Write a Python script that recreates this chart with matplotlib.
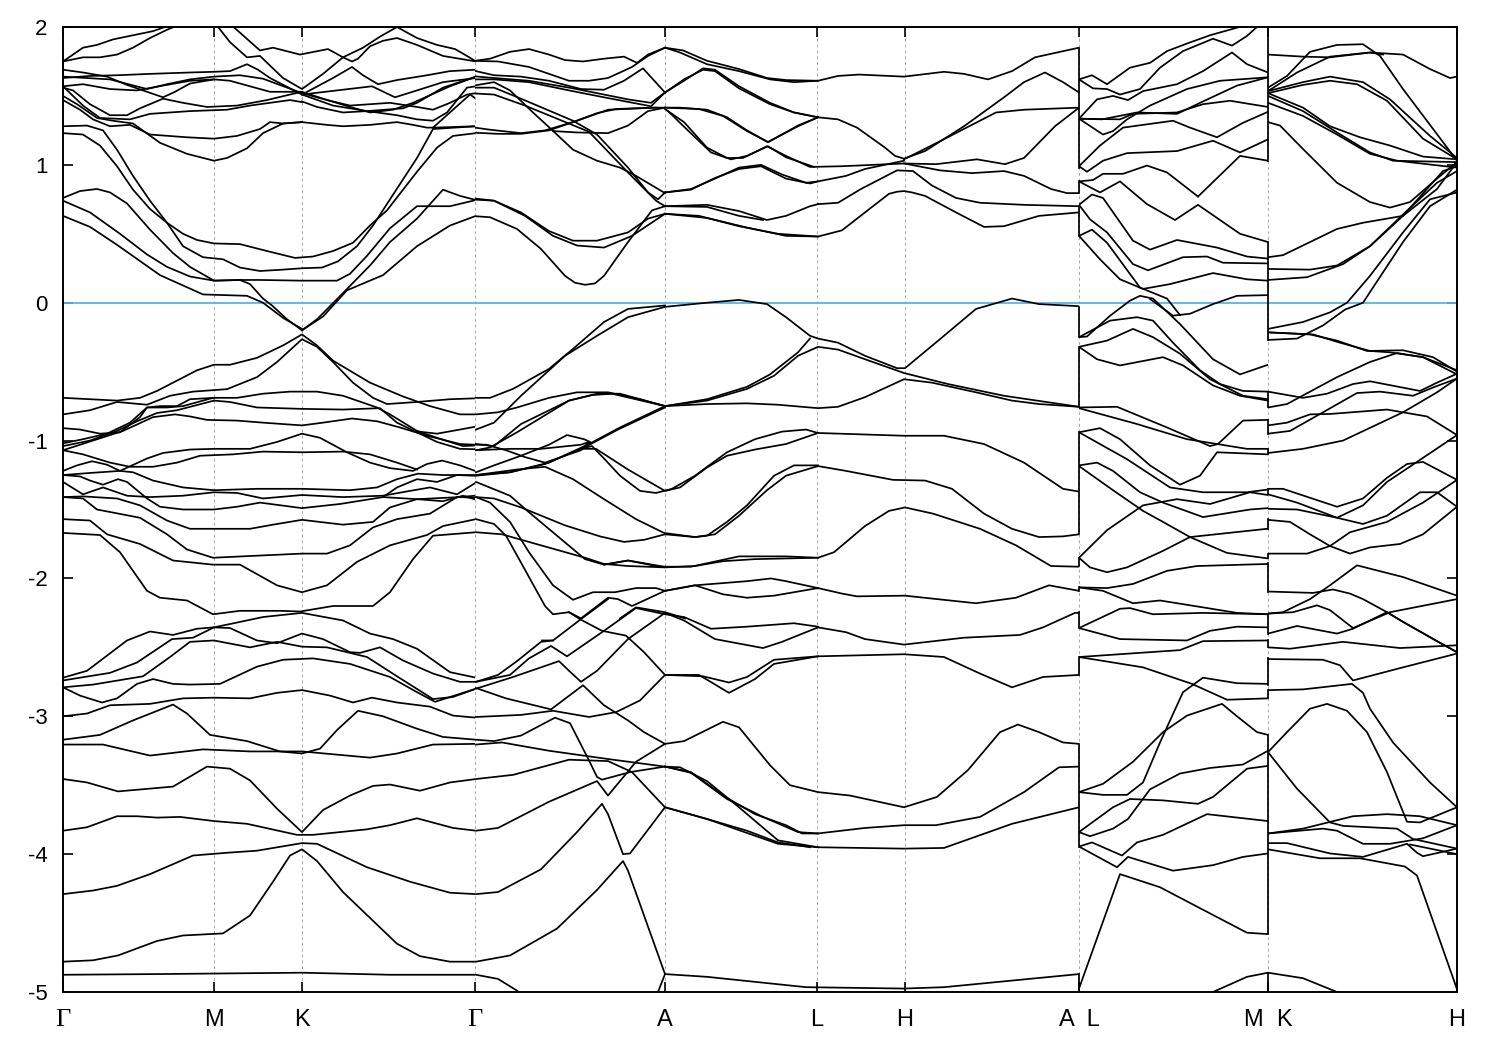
import matplotlib
matplotlib.use("Agg")
import matplotlib.pyplot as plt
from matplotlib.patches import Rectangle

# k-path positions of the high-symmetry points (path units)
k_ticks = [63, 214, 302, 475, 665, 817, 905, 1079, 1268, 1457]
k_labels = ["\u0393", "M", "K", "\u0393", "A", "L", "H", "A  L", "M  K", "H"]
e_ticks = [-5, -4, -3, -2, -1, 0, 1, 2]
fermi_level = 0.0

# Each band: list of (k, energy in eV) points
bands_G_M_K_G_upper = [
 [(63,1.75),(75,1.81),(83,1.85),(97,1.87),(113,1.91),(133,1.94),(153,1.97),(165,2.0),(177,2.02)],
 [(63,1.75),(83,1.78),(100,1.78),(117,1.80),(133,1.85),(150,1.92),(167,1.98),(177,2.01)],
 [(217,2.01),(230,1.89),(247,1.78),(260,1.79),(283,1.63),(302,1.55),(323,1.66),(343,1.78),(363,1.85),(380,1.93),(397,2.0),(417,1.92),(437,1.87),(455,1.84),(467,1.79),(476,1.75)],
 [(232,2.01),(260,1.83),(273,1.85),(300,1.80),(328,1.84),(343,1.78),(352,1.75),(358,1.77),(370,1.86),(383,1.90),(397,1.92),(417,1.87),(443,1.79),(476,1.75),(490,1.76)],
 [(63,1.69),(83,1.67),(107,1.64),(127,1.58),(143,1.54),(163,1.49),(175,1.53),(190,1.59),(214,1.62),(230,1.61),(250,1.57),(270,1.53),(302,1.53),(323,1.48),(350,1.42),(370,1.38),(393,1.40),(413,1.45),(450,1.57),(476,1.64),(490,1.63)],
 [(63,1.63),(90,1.645),(117,1.65),(150,1.66),(190,1.67),(214,1.675),(230,1.68),(247,1.73),(258,1.69),(270,1.63),(302,1.51),(333,1.43),(367,1.39),(403,1.41),(417,1.45),(443,1.56),(476,1.64),(490,1.63)],
 [(302,1.51),(333,1.63),(352,1.71),(363,1.65),(378,1.585),(397,1.615),(427,1.65),(450,1.68),(476,1.69),(490,1.67)],
 [(302,1.51),(337,1.54),(372,1.57),(395,1.49),(417,1.54),(443,1.60),(476,1.63),(490,1.63)],
 [(302,1.52),(327,1.47),(350,1.43),(390,1.45),(417,1.42),(433,1.40),(450,1.45),(467,1.51),(476,1.52),(490,1.51)],
 [(302,1.46),(317,1.42),(343,1.38),(367,1.39),(397,1.36),(417,1.33),(433,1.32),(447,1.38),(467,1.56),(476,1.57),(490,1.56)],
 [(302,1.31),(327,1.29),(343,1.28),(370,1.29),(397,1.31),(413,1.29),(427,1.27),(433,1.27),(453,1.40),(470,1.51),(476,1.48),(490,1.47)],
 [(433,1.27),(476,1.28),(490,1.27)],
 [(63,1.64),(110,1.62),(147,1.55),(167,1.585),(190,1.62),(214,1.64),(240,1.65),(263,1.625),(302,1.52)],
 [(63,1.57),(83,1.585),(110,1.55),(137,1.54),(163,1.575),(190,1.61),(214,1.62)],
 [(63,1.56),(73,1.54),(90,1.44),(110,1.36),(127,1.36),(140,1.41),(163,1.48),(183,1.45),(207,1.42),(237,1.43),(267,1.47),(290,1.51),(302,1.53)],
 [(63,1.57),(83,1.43),(100,1.34),(130,1.33),(150,1.37),(190,1.39),(227,1.40),(250,1.43),(290,1.47),(302,1.455)],
 [(63,1.50),(77,1.44),(97,1.34),(113,1.32),(133,1.30),(160,1.16),(187,1.08),(214,1.03),(227,1.05),(247,1.12),(263,1.23),(283,1.30),(302,1.31)],
 [(63,1.47),(80,1.40),(93,1.33),(110,1.28),(130,1.29),(150,1.22),(187,1.20),(214,1.19),(237,1.21),(260,1.26),(270,1.31),(283,1.30),(302,1.31)],
]
bands_G_M_K_G_gap = [
 [(63,1.28),(87,1.285),(103,1.25),(117,1.11),(133,.92),(150,.74),(167,.58),(183,.41),(203,.33),(223,.315),(240,.255),(260,.23),(283,.24),(302,.25),(322,.255),(338,.30),(357,.41),(373,.56),(390,.75),(417,1.05),(433,1.26),(476,1.28),(490,1.27)],
 [(63,1.23),(83,1.22),(100,1.14),(117,.99),(133,.82),(150,.68),(167,.58),(183,.50),(197,.455),(214,.43),(240,.425),(267,.375),(295,.325),(313,.335),(333,.375),(353,.435),(370,.56),(387,.67),(417,.95),(437,1.125),(453,1.21),(476,1.23),(490,1.23)],
 [(63,.76),(80,.81),(97,.825),(110,.80),(127,.72),(150,.53),(173,.36),(190,.26),(214,.16),(240,.165),(250,.135),(263,.03),(272,-.02),(287,-.12),(302,-.2)],
 [(63,.74),(90,.655),(120,.50),(147,.35),(167,.26),(190,.19),(214,.16),(240,.165),(260,.165),(302,.16),(337,.16),(350,.21),(367,.34),(390,.54),(417,.70),(450,.70),(476,.745)],
 [(302,-.2),(317,-.12),(343,.07),(370,.27),(390,.44),(417,.61),(443,.82),(460,.775),(476,.745),(490,.745)],
 [(302,-.2),(323,-.1),(347,.09),(383,.20),(417,.41),(450,.56),(476,.63),(490,.615)],
 [(63,.63),(90,.55),(117,.42),(160,.2),(203,.06),(247,.05),(263,.0),(283,-.11),(302,-.19)],
]
bands_G_M_K_G_middle = [
 [(63,-.69),(90,-.70),(117,-.71),(140,-.69),(157,-.64),(177,-.565),(197,-.49),(214,-.45),(230,-.45),(257,-.40),(283,-.31),(302,-.23),(317,-.31),(333,-.42),(370,-.58),(403,-.68),(430,-.75),(460,-.81),(490,-.81)],
 [(63,-.81),(90,-.78),(117,-.72),(147,-.74),(170,-.675),(193,-.645),(227,-.627),(257,-.54),(277,-.43),(302,-.265),(317,-.32),(333,-.43),(353,-.58),(373,-.69),(387,-.735),(417,-.72),(450,-.70),(490,-.69)],
 [(63,-1.02),(83,-.99),(107,-.95),(130,-.87),(147,-.76),(167,-.76),(183,-.75),(213,-.69),(237,-.69),(263,-.66),(290,-.645),(317,-.645),(343,-.675),(377,-.76),(390,-.81),(417,-.93),(437,-.98),(463,-1.04),(490,-1.03)],
 [(63,-.91),(80,-.92),(100,-.95),(120,-.94),(140,-.83),(147,-.76),(160,-.75),(177,-.75),(190,-.70),(214,-.69)],
 [(214,-.71),(230,-.72),(257,-.76),(302,-.77),(343,-.775),(380,-.765),(397,-.87),(417,-.94),(437,-1.01),(460,-1.06),(490,-1.065)],
 [(63,-1.04),(90,-1.0),(117,-.93),(137,-.86),(157,-.80),(177,-.78),(214,-.71)],
 [(63,-1.07),(93,-1.0),(123,-.93),(153,-.83),(175,-.81),(190,-.825),(207,-.85),(237,-.855),(263,-.87),(302,-.89),(323,-.87),(352,-.84),(377,-.86),(400,-.905),(427,-.965),(460,-1.025),(490,-1.035)],
 [(413,-.93),(437,-.95),(460,-.92),(490,-.88)],
 [(63,-1.07),(83,-1.10),(110,-1.16),(130,-1.19),(153,-1.19),(177,-1.16),(200,-1.11),(233,-1.10),(263,-1.08),(302,-1.085),(343,-1.08),(370,-1.10),(397,-1.16),(417,-1.21)],
 [(63,-1.22),(77,-1.18),(92,-1.15),(107,-1.175),(120,-1.22),(147,-1.13),(163,-1.09),(190,-1.065),(214,-1.06),(250,-1.06),(277,-1.01),(302,-.95),(320,-.98),(347,-1.085),(370,-1.16),(390,-1.20),(413,-1.22),(427,-1.17),(442,-1.145),(460,-1.18),(477,-1.225),(490,-1.21)],
 [(63,-1.25),(90,-1.235),(120,-1.22),(133,-1.23),(153,-1.29),(183,-1.34),(214,-1.36),(257,-1.35),(302,-1.35),(350,-1.36),(377,-1.34),(397,-1.28),(418,-1.24),(443,-1.25),(490,-1.25)],
 [(63,-1.25),(80,-1.26),(90,-1.29),(103,-1.32),(118,-1.28),(127,-1.30),(147,-1.42),(160,-1.48),(183,-1.50),(214,-1.50),(237,-1.48),(260,-1.45),(302,-1.49),(340,-1.46),(383,-1.41),(397,-1.34),(417,-1.28),(437,-1.30),(457,-1.25),(490,-1.26)],
 [(63,-1.30),(83,-1.39),(103,-1.34),(127,-1.40),(150,-1.41),(183,-1.40),(214,-1.375),(237,-1.38),(263,-1.42),(302,-1.395),(343,-1.41),(383,-1.40),(410,-1.365),(430,-1.34),(457,-1.39),(477,-1.30),(490,-1.32)],
 [(63,-1.41),(83,-1.405),(117,-1.42),(140,-1.47),(167,-1.58),(190,-1.64),(230,-1.64),(250,-1.64),(273,-1.61),(302,-1.575),(343,-1.61),(373,-1.59),(390,-1.485),(417,-1.425),(443,-1.44),(463,-1.40),(490,-1.46)],
 [(383,-1.41),(417,-1.425),(460,-1.41),(490,-1.42)],
 [(63,-1.57),(90,-1.58),(107,-1.68),(140,-1.75),(173,-1.87),(213,-1.90),(240,-1.90),(277,-2.05),(302,-2.10),(327,-2.05),(357,-1.88),(390,-1.76),(427,-1.685),(443,-1.62),(476,-1.57),(490,-1.59)],
 [(63,-1.67),(100,-1.685),(120,-1.81),(147,-2.09),(160,-2.14),(187,-2.16),(213,-2.26),(240,-2.235),(280,-2.235),(300,-2.24),(333,-2.2),(373,-2.2),(390,-2.10),(413,-1.86),(433,-1.69),(476,-1.665),(490,-1.665)],
 [(63,-1.41),(83,-1.42),(97,-1.50),(140,-1.56),(167,-1.68),(187,-1.79),(213,-1.85),(257,-1.835),(302,-1.82),(327,-1.82),(350,-1.76),(373,-1.63),(397,-1.57),(430,-1.53),(457,-1.41),(476,-1.40)],
]
bands_G_M_K_G_lower = [
 [(63,-2.72),(87,-2.67),(107,-2.56),(127,-2.45),(150,-2.385),(173,-2.41),(197,-2.365),(214,-2.355),(237,-2.32),(263,-2.28),(302,-2.25),(343,-2.305),(370,-2.40),(393,-2.44),(417,-2.51),(450,-2.68),(476,-2.72),(490,-2.715)],
 [(63,-2.74),(110,-2.685),(137,-2.61),(172,-2.44),(193,-2.43),(214,-2.355),(230,-2.36),(257,-2.45),(277,-2.47),(302,-2.40),(323,-2.44),(350,-2.535),(360,-2.54),(380,-2.50),(403,-2.595),(433,-2.69),(460,-2.75),(476,-2.75),(490,-2.71)],
 [(63,-2.79),(93,-2.77),(143,-2.71),(170,-2.57),(190,-2.46),(214,-2.45),(250,-2.50),(277,-2.46),(302,-2.495),(327,-2.50),(367,-2.57),(397,-2.71),(433,-2.875),(453,-2.86),(476,-2.80),(490,-2.79)],
 [(63,-2.79),(80,-2.85),(102,-2.90),(117,-2.87),(137,-2.765),(153,-2.73),(173,-2.765),(190,-2.77),(220,-2.765),(257,-2.64),(283,-2.59),(313,-2.58),(350,-2.62),(390,-2.715),(417,-2.825),(435,-2.895),(476,-2.80)],
 [(63,-3.0),(87,-2.98),(110,-2.92),(150,-2.91),(183,-2.87),(214,-2.865),(250,-2.87),(277,-2.83),(302,-2.81),(330,-2.85),(353,-2.90),(372,-2.865),(397,-2.90),(430,-2.93),(453,-2.995),(476,-3.01),(490,-3.01)],
 [(63,-3.17),(100,-3.135),(133,-3.03),(173,-2.915),(187,-2.98),(210,-3.135),(247,-3.18),(280,-3.255),(302,-3.27),(320,-3.235),(337,-3.10),(358,-2.96),(383,-3.0),(417,-3.09),(443,-3.15),(476,-3.17),(490,-3.18)],
 [(63,-3.205),(103,-3.205),(150,-3.285),(203,-3.24),(250,-3.255),(302,-3.255),(370,-3.30),(397,-3.27),(433,-3.205),(476,-3.20),(490,-3.195)],
 [(63,-3.455),(87,-3.48),(118,-3.545),(173,-3.51),(207,-3.365),(230,-3.38),(250,-3.465),(277,-3.67),(302,-3.84),(323,-3.68),(350,-3.575),(373,-3.505),(390,-3.495),(420,-3.54),(450,-3.48),(476,-3.455),(490,-3.45)],
 [(63,-3.83),(87,-3.805),(117,-3.725),(137,-3.725),(157,-3.735),(180,-3.73),(214,-3.76),(247,-3.78),(297,-3.86),(313,-3.86),(367,-3.82),(390,-3.79),(417,-3.74),(453,-3.81),(476,-3.83),(490,-3.815)],
 [(63,-4.29),(93,-4.264),(117,-4.23),(150,-4.145),(193,-4.01),(227,-3.99),(257,-3.975),(302,-3.92),(317,-3.925),(367,-4.095),(410,-4.20),(450,-4.28),(476,-4.29),(490,-4.285)],
 [(63,-4.78),(93,-4.77),(118,-4.735),(157,-4.63),(183,-4.59),(223,-4.575),(250,-4.445),(273,-4.2),(290,-4.01),(302,-3.965),(317,-4.05),(343,-4.275),(397,-4.65),(420,-4.74),(450,-4.78),(490,-4.78)],
 [(63,-4.875),(157,-4.87),(302,-4.86),(390,-4.875),(476,-4.875),(490,-4.89)],
]
bands_G_A_L_H_A_upper = [
 [(470,1.75),(490,1.77),(510,1.82),(529,1.84),(549,1.80),(565,1.76),(583,1.75),(604,1.77),(624,1.785),(637,1.74),(648,1.80),(665,1.85),(680,1.815),(707,1.73),(739,1.68),(770,1.62),(794,1.60),(818,1.61),(838,1.645),(859,1.655),(904,1.64),(944,1.675),(964,1.66),(988,1.62),(1012,1.68),(1035,1.78),(1079,1.85)],
 [(665,1.85),(683,1.83),(707,1.755),(739,1.695),(767,1.63),(786,1.615),(818,1.61)],
 [(470,1.755),(498,1.75),(529,1.71),(569,1.61),(589,1.61),(608,1.63),(632,1.71),(648,1.79),(665,1.85)],
 [(470,1.69),(494,1.65),(521,1.64),(549,1.61),(581,1.55),(604,1.545),(624,1.61),(643,1.70),(665,1.525)],
 [(470,1.645),(494,1.63),(529,1.61),(573,1.555),(604,1.51),(628,1.475),(651,1.45),(665,1.525),(684,1.61),(703,1.70),(715,1.69),(739,1.57),(770,1.45),(794,1.38),(818,1.345),(838,1.33),(857,1.27),(885,1.125),(895,1.065),(904,1.045),(925,1.10),(964,1.28),(1004,1.49),(1024,1.60),(1045,1.67),(1063,1.60),(1079,1.525)],
 [(470,1.62),(494,1.62),(529,1.60),(569,1.54),(604,1.49),(651,1.425),(665,1.525)],
 [(665,1.525),(684,1.62),(703,1.69),(715,1.68),(739,1.555),(770,1.44),(794,1.38),(818,1.345)],
 [(470,1.56),(494,1.56),(521,1.48),(573,1.32),(597,1.22),(628,.98),(648,.80),(658,.75),(665,.80)],
 [(470,1.52),(494,1.51),(525,1.43),(589,1.24),(628,.945),(656,.74),(665,.70)],
 [(470,1.57),(494,1.60),(510,1.54),(533,1.38),(551,1.26),(573,1.11),(597,1.03),(620,.98),(636,.92),(665,.795)],
 [(470,1.275),(490,1.255),(521,1.23),(545,1.25),(573,1.31),(597,1.375),(616,1.405),(652,1.415),(665,1.415)],
 [(470,1.235),(498,1.225),(521,1.225),(549,1.25),(577,1.32),(608,1.40),(656,1.415)],
 [(553,1.245),(577,1.235),(608,1.23),(628,1.285),(648,1.39),(665,1.415)],
 [(665,1.415),(680,1.415),(707,1.40),(727,1.345),(747,1.25),(768,1.165),(798,1.28),(818,1.345)],
 [(665,1.415),(699,1.405),(723,1.355),(747,1.245),(768,1.165),(798,1.285),(818,1.345)],
 [(665,1.405),(684,1.31),(707,1.125),(727,1.05),(743,1.05),(767,1.135),(786,1.065),(810,.985),(842,.99),(904,1.01),(936,1.005),(977,1.04),(1005,1.005),(1024,1.05),(1055,1.28),(1079,1.415)],
 [(668,1.39),(685,1.27),(711,1.09),(731,1.04),(747,1.065),(768,1.135),(786,1.055),(814,.985)],
 [(904,1.04),(941,1.175),(996,1.38),(1024,1.40),(1079,1.415)],
 [(665,.80),(691,.825),(715,.90),(739,.98),(761,1.0),(782,.93),(806,.87),(818,.88),(846,.92),(865,.97),(904,1.03)],
 [(665,.80),(691,.82),(715,.905),(739,.97),(761,.99),(786,.90),(810,.865),(818,.88)],
 [(904,1.01),(940,.96),(972,.94),(1004,.955),(1024,.92),(1051,.825),(1067,.795),(1079,.795)],
 [(818,.715),(838,.725),(861,.825),(897,.96),(913,.955),(932,.85),(956,.76),(980,.725),(1024,.71),(1079,.70)],
 [(665,.70),(707,.71),(739,.665),(767,.60),(786,.63),(810,.70),(818,.715)],
 [(665,.70),(707,.695),(739,.63),(763,.60)],
 [(665,.645),(707,.615),(747,.545),(786,.485),(818,.48),(842,.525),(865,.655),(889,.79),(897,.805),(904,.81),(912,.80),(925,.775),(956,.655),(984,.55),(1004,.555),(1039,.63),(1079,.655)],
 [(665,.645),(699,.63),(739,.555),(778,.50),(818,.48)],
 [(470,.63),(490,.62),(517,.535),(541,.39),(565,.195),(575,.145),(585,.13),(595,.14),(604,.195),(628,.44),(652,.67),(665,.70)],
 [(470,.75),(494,.74),(521,.655),(549,.52),(573,.45),(597,.45),(628,.51),(648,.61),(665,.645)],
 [(470,.76),(494,.74),(525,.63),(553,.485),(577,.415),(604,.40),(632,.485),(665,.645)],
]
bands_G_A_L_H_A_middle = [
 [(476,-.69),(490,-.69),(513,-.625),(549,-.48),(573,-.335),(604,-.14),(628,-.045),(665,-.02)],
 [(476,-.92),(494,-.87),(521,-.675),(565,-.385),(597,-.24),(628,-.105),(665,-.03),(707,0.0),(739,.02),(767,-.01),(786,-.105),(810,-.24),(818,-.26),(838,-.29),(865,-.385),(897,-.475),(905,-.475),(944,-.24),(976,-.045),(1012,.03),(1039,-.01),(1079,-.025)],
 [(476,-.81),(498,-.795),(517,-.76),(549,-.69),(577,-.65),(608,-.65),(640,-.70),(665,-.75)],
 [(476,-1.025),(494,-1.04),(521,-.88),(569,-.71),(597,-.66),(620,-.66),(665,-.75)],
 [(476,-1.07),(490,-1.05),(517,-.94),(569,-.71),(592,-.67),(612,-.66),(665,-.75)],
 [(476,-1.23),(494,-1.18),(521,-1.11),(549,-1.03),(567,-.96),(584,-.99),(590,-1.01)],
 [(476,-1.25),(510,-1.23),(549,-1.16),(589,-1.025),(620,-.905),(665,-.75)],
 [(476,-1.255),(510,-1.23),(545,-1.17),(587,-1.04),(618,-.92),(665,-.76)],
 [(476,-1.03),(486,-1.03),(506,-1.07),(525,-1.12),(545,-1.16),(581,-1.07),(589,-1.01)],
 [(476,-1.07),(510,-1.06),(541,-1.06),(581,-1.03),(589,-1.01)],
 [(665,-.75),(707,-.735),(747,-.73),(778,-.74),(818,-.765),(838,-.755),(865,-.685),(904,-.555),(932,-.58),(976,-.65),(1012,-.71),(1039,-.735),(1079,-.755)],
 [(665,-.75),(707,-.71),(747,-.625),(774,-.53),(798,-.385),(818,-.32),(838,-.34),(865,-.41),(904,-.51),(948,-.59),(1004,-.675),(1079,-.755)],
 [(665,-.75),(707,-.70),(747,-.61),(770,-.52),(798,-.36),(810,-.26)],
 [(581,-1.06),(592,-1.04),(604,-1.13),(620,-1.255),(640,-1.365),(656,-1.38),(672,-1.35),(695,-1.255),(727,-1.085),(755,-.99),(782,-.935),(806,-.92),(818,-.945)],
 [(581,-1.06),(596,-1.06),(628,-1.21),(665,-1.365),(680,-1.34),(707,-1.195),(727,-1.11),(755,-1.065),(786,-1.025),(818,-.945),(904,-.965),(944,-.965),(984,-1.025),(1024,-1.16),(1063,-1.35),(1079,-1.37)],
 [(476,-1.25),(517,-1.21),(545,-1.19),(573,-1.28),(604,-1.425),(636,-1.57),(664,-1.67),(695,-1.70),(707,-1.69),(727,-1.59),(747,-1.47),(774,-1.255),(794,-1.18),(818,-1.18)],
 [(476,-1.41),(494,-1.42),(521,-1.485),(565,-1.615),(600,-1.695),(624,-1.735),(644,-1.72),(665,-1.68),(695,-1.70),(715,-1.68),(739,-1.545),(767,-1.36),(786,-1.255),(818,-1.185),(846,-1.22),(893,-1.285),(925,-1.29),(952,-1.35),(984,-1.53),(1012,-1.64),(1039,-1.70),(1063,-1.695),(1079,-1.68)],
 [(476,-1.30),(510,-1.40),(529,-1.52),(557,-1.69),(585,-1.86),(604,-1.90),(628,-1.87),(664,-1.915)],
 [(476,-1.41),(490,-1.45),(510,-1.59),(529,-1.81),(553,-2.05),(573,-2.155),(593,-2.10),(615,-2.10),(636,-2.07),(656,-2.07),(665,-2.09),(695,-2.05),(747,-2.02),(771,-2.0),(786,-2.02),(818,-2.07),(842,-2.11),(857,-2.13),(905,-2.125),(937,-2.15),(976,-2.18),(1016,-2.14),(1049,-2.05),(1079,-2.09)],
 [(476,-1.57),(494,-1.605),(506,-1.69),(521,-1.885),(545,-2.20),(553,-2.26),(569,-2.245),(581,-2.29)],
 [(476,-1.665),(502,-1.68),(541,-1.76),(585,-1.85),(604,-1.895),(628,-1.91),(665,-1.92),(695,-1.91),(723,-1.875),(755,-1.86),(818,-1.85),(834,-1.81),(865,-1.62),(889,-1.51),(905,-1.485),(933,-1.53),(980,-1.64),(1016,-1.76),(1051,-1.91),(1079,-1.915)],
 [(604,-1.90),(628,-1.87),(660,-1.915),(691,-1.915),(739,-1.84),(786,-1.84),(818,-1.85)],
 [(665,-2.09),(695,-2.05),(723,-2.115),(747,-2.14),(774,-2.125),(818,-2.07)],
 [(581,-2.29),(608,-2.14),(618,-2.15),(632,-2.20),(644,-2.16),(665,-2.09)],
 [(620,-2.29),(636,-2.21),(665,-2.245),(685,-2.29)],
]
bands_G_A_L_H_A_lower = [
 [(569,-2.245),(581,-2.30),(602,-2.38),(626,-2.415),(644,-2.535),(665,-2.70)],
 [(542,-2.45),(553,-2.45),(581,-2.295),(608,-2.15)],
 [(476,-2.75),(498,-2.70),(517,-2.60),(541,-2.46),(553,-2.45)],
 [(476,-2.75),(510,-2.70),(529,-2.58),(551,-2.49),(567,-2.565),(604,-2.38),(636,-2.215),(665,-2.26),(684,-2.28),(711,-2.365),(747,-2.35),(794,-2.325),(818,-2.35)],
 [(476,-2.80),(513,-2.715),(559,-2.60),(569,-2.67),(581,-2.75),(597,-2.67),(628,-2.44),(665,-2.25),(684,-2.305),(715,-2.44),(763,-2.505),(782,-2.46),(818,-2.355),(846,-2.39),(865,-2.44),(904,-2.48),(964,-2.43),(1020,-2.41),(1043,-2.355),(1075,-2.25),(1079,-2.25)],
 [(476,-2.795),(506,-2.87),(551,-2.95),(583,-2.775),(604,-2.92),(628,-3.03),(644,-3.115),(665,-3.20),(684,-3.18),(723,-3.04),(739,-3.08),(770,-3.355),(790,-3.50),(818,-3.55),(850,-3.575),(904,-3.66),(937,-3.585),(968,-3.39),(1000,-3.115),(1018,-3.06),(1039,-3.115),(1063,-3.19),(1079,-3.2)],
 [(476,-3.005),(521,-2.99),(553,-2.96),(589,-3.005),(616,-2.97),(640,-2.885),(665,-2.70),(699,-2.70),(729,-2.83),(755,-2.73),(774,-2.62),(818,-2.565),(904,-2.55),(944,-2.57),(980,-2.69),(1012,-2.79),(1043,-2.715),(1079,-2.70)],
 [(665,-2.70),(703,-2.71),(729,-2.755),(747,-2.715),(774,-2.59),(818,-2.565)],
 [(476,-3.17),(494,-3.18),(521,-3.14),(555,-3.01),(570,-3.05),(589,-3.32),(597,-3.44),(602,-3.46),(630,-3.405),(665,-3.365),(680,-3.37),(707,-3.47),(739,-3.66),(778,-3.90),(818,-3.95)],
 [(476,-3.205),(502,-3.19),(549,-3.25),(608,-3.31),(665,-3.365)],
 [(476,-3.455),(513,-3.425),(569,-3.315),(608,-3.325),(632,-3.405),(665,-3.66),(707,-3.745),(778,-3.925),(818,-3.95),(904,-3.96),(944,-3.955),(1012,-3.78),(1079,-3.66)],
 [(476,-3.83),(498,-3.81),(549,-3.62),(597,-3.47),(608,-3.575),(636,-3.33),(665,-3.2)],
 [(476,-4.29),(498,-4.275),(541,-4.11),(577,-3.84),(602,-3.635),(608,-3.71),(623,-4.0),(630,-3.995),(665,-3.66)],
 [(476,-4.78),(510,-4.735),(557,-4.54),(597,-4.26),(623,-4.05),(628,-4.12),(665,-4.87),(707,-4.89),(806,-4.965),(904,-4.975),(944,-4.965),(1079,-4.87)],
 [(658,-5.0),(665,-4.87)],
 [(476,-4.875),(498,-4.905),(517,-4.99),(520,-5.01)],
 [(665,-3.365),(691,-3.405),(723,-3.575),(755,-3.71),(786,-3.79),(802,-3.85),(818,-3.85),(865,-3.81),(904,-3.79),(936,-3.79),(980,-3.73),(1024,-3.55),(1059,-3.37),(1079,-3.365)],
 [(665,-3.365),(691,-3.41),(727,-3.60),(763,-3.73),(798,-3.84),(818,-3.85)],
 [(665,-3.66),(707,-3.745),(747,-3.83),(778,-3.915),(810,-3.95)],
]
bands_L_M = [
 [(1079,1.62),(1092,1.65),(1107,1.585),(1130,1.705),(1150,1.74),(1167,1.825),(1187,1.88),(1210,1.94),(1237,1.995),(1250,2.02)],
 [(1079,1.62),(1093,1.555),(1107,1.55),(1120,1.51),(1140,1.55),(1160,1.705),(1183,1.825),(1213,1.915),(1232,1.865),(1247,1.935),(1260,2.02)],
 [(1079,1.335),(1097,1.475),(1113,1.50),(1128,1.47),(1143,1.535),(1177,1.585),(1203,1.68),(1232,1.815),(1247,1.73),(1268,1.67)],
 [(1079,1.335),(1102,1.33),(1137,1.38),(1177,1.37),(1203,1.46),(1237,1.575),(1268,1.635)],
 [(1079,1.335),(1103,1.22),(1113,1.245),(1127,1.33),(1150,1.43),(1187,1.55),(1220,1.61),(1268,1.635)],
 [(1079,1.335),(1120,1.33),(1133,1.37),(1177,1.38),(1203,1.44),(1230,1.465),(1268,1.42)],
 [(1079,.99),(1100,1.14),(1123,1.27),(1173,1.32),(1190,1.27),(1217,1.2),(1243,1.305),(1268,1.385)],
 [(1079,.99),(1087,.95),(1103,1.03),(1127,1.085),(1177,1.10),(1213,1.175),(1240,1.09),(1268,1.185)],
 [(1198,.77),(1240,1.065),(1268,1.03)],
 [(1079,.88),(1093,.89),(1103,.935),(1123,.935),(1147,.995),(1167,.945),(1198,.77)],
 [(1079,.88),(1100,.80),(1120,.88),(1147,.715),(1175,.60),(1198,.71),(1213,.635),(1240,.50),(1268,.44)],
 [(1079,.71),(1092,.785),(1103,.76),(1133,.45),(1150,.385),(1177,.455),(1217,.40),(1247,.335),(1268,.32)],
 [(1079,.71),(1090,.605),(1107,.51),(1133,.28),(1148,.235),(1183,.33),(1207,.335),(1223,.29),(1268,.285)],
 [(1079,.485),(1092,.53),(1107,.435),(1140,.11),(1167,.03),(1180,-.09)],
 [(1079,.485),(1100,.315),(1120,.17),(1143,.10),(1170,.135),(1213,.215),(1247,.17),(1268,.16)],
 [(1079,-.25),(1087,-.245),(1110,-.095),(1130,.015),(1140,.05),(1153,.03),(1180,-.155),(1213,-.41),(1240,-.52),(1268,-.45)],
 [(1150,.027),(1173,-.094),(1190,-.08),(1213,-.01),(1237,.05),(1268,.055)],
 [(1079,-.25),(1110,-.13),(1137,-.105),(1153,-.13),(1173,-.29),(1200,-.49),(1220,-.59),(1243,-.64),(1268,-.645)],
 [(1079,-.32),(1107,-.275),(1133,-.19),(1153,-.25),(1180,-.37),(1210,-.555),(1243,-.675),(1268,-.70)],
 [(1079,-.32),(1097,-.41),(1120,-.455),(1163,-.395),(1183,-.455),(1213,-.60),(1240,-.675),(1268,-.71)],
 [(1079,-.76),(1117,-.755),(1167,-.905),(1210,-1.04),(1218,-1.025),(1243,-.855),(1268,-.85)],
 [(1079,-.765),(1137,-.88),(1187,-.99),(1247,-1.06),(1268,-1.06)],
 [(1079,-.94),(1100,-.91),(1120,-.99),(1150,-1.18),(1180,-1.32),(1200,-1.255),(1217,-1.085),(1268,-1.10)],
 [(1079,-.94),(1127,-1.135),(1170,-1.34),(1203,-1.375),(1247,-1.375),(1268,-1.355)],
 [(1079,-1.18),(1097,-1.16),(1113,-1.22),(1140,-1.375),(1163,-1.45),(1203,-1.555),(1250,-1.50),(1268,-1.49)],
 [(1079,-1.185),(1113,-1.36),(1143,-1.51),(1163,-1.59),(1190,-1.70),(1227,-1.815),(1268,-1.855)],
 [(1079,-1.85),(1107,-1.65),(1143,-1.47),(1177,-1.425),(1210,-1.46),(1250,-1.375),(1268,-1.395)],
 [(1079,-1.85),(1090,-1.92),(1107,-1.955),(1127,-1.92),(1163,-1.80),(1190,-1.70),(1267,-1.64)],
 [(1079,-2.065),(1107,-2.07),(1133,-2.04),(1167,-1.945),(1197,-1.91),(1268,-1.895)],
 [(1079,-2.065),(1103,-2.09),(1133,-2.18),(1160,-2.16),(1203,-2.21),(1237,-2.25),(1268,-2.26)],
 [(1079,-2.36),(1120,-2.22),(1130,-2.215),(1153,-2.26),(1203,-2.25),(1268,-2.26)],
 [(1079,-2.36),(1120,-2.44),(1187,-2.45),(1210,-2.38),(1237,-2.35),(1268,-2.355)],
 [(1079,-2.57),(1180,-2.52),(1203,-2.455),(1268,-2.45)],
 [(1079,-2.57),(1143,-2.645),(1192,-2.765),(1227,-2.88),(1268,-2.87)],
 [(1079,-3.55),(1103,-3.49),(1133,-3.33),(1163,-3.115),(1187,-2.995),(1222,-2.91),(1237,-3.0),(1257,-3.115),(1268,-3.135)],
 [(1079,-3.55),(1103,-3.57),(1127,-3.57),(1143,-3.48),(1160,-3.19),(1183,-2.825),(1203,-2.72),(1237,-2.76),(1268,-2.765)],
 [(1079,-3.84),(1113,-3.66),(1130,-3.6),(1163,-3.61),(1198,-3.635),(1213,-3.585),(1247,-3.38),(1268,-3.36)],
 [(1079,-3.84),(1090,-3.87),(1113,-3.815),(1128,-3.745),(1150,-3.53),(1180,-3.415),(1210,-3.375),(1243,-3.35),(1268,-3.25)],
 [(1079,-3.945),(1092,-3.915),(1122,-4.01),(1137,-3.915),(1163,-3.86),(1207,-3.71),(1268,-3.76)],
 [(1079,-3.945),(1117,-4.095),(1128,-4.02),(1173,-4.12),(1213,-4.08),(1243,-4.02),(1268,-3.995)],
 [(1079,-4.975),(1120,-4.145),(1160,-4.24),(1210,-4.43),(1247,-4.57),(1268,-4.58)],
 [(1213,-5.0),(1247,-4.89),(1268,-4.86)],
]
bands_K_H = [
 [(1268,-4.86),(1303,-4.90),(1337,-5.0)],
 [(1268,1.80),(1303,1.785),(1330,1.78),(1370,1.815),(1403,1.80),(1430,1.695),(1450,1.63),(1457,1.64)],
 [(1268,1.56),(1287,1.645),(1310,1.82),(1337,1.87),(1363,1.875),(1380,1.79),(1403,1.55),(1457,1.03)],
 [(1268,1.535),(1297,1.67),(1330,1.785),(1370,1.815),(1383,1.80)],
 [(1268,1.535),(1303,1.60),(1330,1.64),(1363,1.60),(1390,1.475),(1430,1.21),(1457,1.05)],
 [(1268,1.52),(1303,1.58),(1330,1.61),(1357,1.585),(1387,1.465),(1423,1.19),(1457,1.04)],
 [(1268,1.52),(1303,1.415),(1330,1.28),(1360,1.20),(1390,1.14),(1423,1.06),(1457,1.04)],
 [(1268,1.50),(1303,1.39),(1337,1.235),(1370,1.09),(1393,1.03),(1457,1.02)],
 [(1268,1.45),(1303,1.355),(1337,1.22),(1370,1.08),(1397,1.03),(1457,.98)],
 [(1268,1.31),(1280,1.285),(1303,1.115),(1337,.87),(1370,.73),(1390,.69),(1410,.73),(1437,.90),(1457,1.02)],
 [(1268,.33),(1283,.345),(1337,.535),(1363,.58),(1403,.63),(1437,.825),(1457,1.02)],
 [(1268,.245),(1310,.24),(1337,.27),(1370,.41),(1403,.63),(1430,.85),(1443,.955),(1457,.99)],
 [(1268,.165),(1307,.185),(1343,.28),(1370,.41),(1403,.64),(1437,.87),(1457,.955)],
 [(1268,-.19),(1303,-.14),(1330,-.07),(1347,.0),(1370,.195),(1403,.51),(1430,.75),(1457,.80)],
 [(1268,-.27),(1297,-.26),(1323,-.165),(1345,-.05),(1363,.0),(1403,.44),(1430,.70),(1457,.82)],
 [(1268,-.215),(1310,-.23),(1337,-.275),(1367,-.35),(1403,-.345),(1433,-.395),(1457,-.50)],
 [(1268,-.215),(1313,-.23),(1340,-.29),(1370,-.35),(1390,-.36),(1423,-.395),(1457,-.52)],
 [(1268,-.645),(1303,-.69),(1327,-.66),(1353,-.59),(1370,-.57),(1420,-.64),(1437,-.58),(1457,-.515)],
 [(1268,-.76),(1287,-.735),(1337,-.54),(1370,-.43),(1397,-.365),(1423,-.395),(1457,-.49)],
 [(1268,-.95),(1290,-.93),(1323,-.795),(1357,-.655),(1380,-.645),(1413,-.675),(1433,-.615),(1457,-.55)],
 [(1268,-.89),(1287,-.87),(1310,-.81),(1330,-.807),(1387,-.775),(1427,-.825),(1457,-.96)],
 [(1268,-1.09),(1303,-1.06),(1343,-1.0),(1403,-.795),(1437,-.65),(1457,-.55)],
 [(1268,-1.35),(1283,-1.35),(1337,-1.48),(1363,-1.42),(1387,-1.27),(1407,-1.17),(1423,-1.155),(1457,-1.285)],
 [(1268,-1.39),(1297,-1.45),(1337,-1.56),(1363,-1.47),(1387,-1.30),(1420,-1.14),(1457,-.96)],
 [(1268,-1.495),(1297,-1.50),(1337,-1.56),(1363,-1.605),(1387,-1.545),(1420,-1.375),(1437,-1.375),(1457,-1.48)],
 [(1268,-1.575),(1290,-1.59),(1310,-1.68),(1330,-1.765),(1350,-1.82),(1370,-1.775),(1400,-1.75),(1423,-1.68),(1457,-1.48)],
 [(1268,-1.82),(1307,-1.82),(1330,-1.765),(1350,-1.665),(1387,-1.59),(1423,-1.45),(1457,-1.285)],
 [(1268,-2.095),(1313,-2.105),(1333,-2.08),(1350,-2.11),(1363,-2.15),(1387,-2.245),(1403,-2.315),(1437,-2.455),(1457,-2.535)],
 [(1268,-2.255),(1283,-2.245),(1310,-2.15),(1330,-2.05),(1357,-1.905),(1403,-1.99),(1457,-2.125)],
 [(1268,-2.255),(1293,-2.245),(1317,-2.195),(1330,-2.23),(1353,-2.36),(1390,-2.245),(1457,-2.15)],
 [(1268,-2.40),(1297,-2.345),(1337,-2.40),(1353,-2.365),(1387,-2.245),(1403,-2.315),(1437,-2.455),(1457,-2.535)],
 [(1268,-2.50),(1290,-2.51),(1343,-2.46),(1400,-2.505),(1457,-2.485)],
 [(1268,-2.585),(1323,-2.59),(1340,-2.63),(1353,-2.74),(1403,-2.645),(1457,-2.545)],
 [(1268,-2.81),(1303,-2.805),(1352,-2.765),(1363,-2.83),(1370,-2.945),(1393,-3.19),(1430,-3.48),(1457,-3.66)],
 [(1268,-3.26),(1287,-3.115),(1310,-2.945),(1327,-2.91),(1347,-2.96),(1367,-3.115),(1387,-3.405),(1407,-3.765),(1420,-3.77),(1457,-3.66)],
 [(1268,-3.26),(1297,-3.525),(1330,-3.77),(1343,-3.795),(1397,-3.815),(1413,-3.89),(1457,-3.96)],
 [(1268,-3.85),(1303,-3.815),(1353,-3.725),(1387,-3.71),(1420,-3.725),(1457,-3.79)],
 [(1268,-3.85),(1323,-3.815),(1337,-3.83),(1363,-3.925),(1390,-3.925),(1423,-3.885),(1457,-3.79)],
 [(1268,-3.92),(1287,-3.92),(1330,-3.995),(1363,-4.02),(1407,-3.925),(1417,-3.99),(1423,-4.015),(1457,-3.96)],
 [(1268,-3.965),(1320,-4.03),(1360,-4.03),(1405,-4.09),(1417,-4.155),(1457,-4.98)],
 [(1410,-3.93),(1457,-4.0)],
]
# energy jumps where the path is discontinuous (A|L and M|K)
jumps_A_L = [(1.85,.98),(.88,.795),(.70,.485),(-.03,-.25),(-.32,-.75),(-.94,-1.68),(-1.85,-1.91),(-2.065,-2.09),(-2.245,-2.36),(-2.57,-2.70),(-3.2,-3.95),(-4.87,-5.0)]
jumps_M_K = [(2.0,1.03),(.44,-.27),(-.65,-.76),(-.85,-.95),(-1.06,-1.10),(-1.35,-1.39),(-1.57,-1.64),(-1.82,-1.85),(-1.89,-2.10),(-2.26,-2.40),(-2.45,-2.50),(-2.58,-2.77),(-2.81,-2.87),(-3.135,-4.58),(-4.86,-5.0)]

# (bands of one path section, first k, last k of that section)
sections = [
    (bands_G_M_K_G_upper + bands_G_M_K_G_gap + bands_G_M_K_G_middle + bands_G_M_K_G_lower, 63, 475),
    (bands_G_A_L_H_A_upper + bands_G_A_L_H_A_middle + bands_G_A_L_H_A_lower, 475, 1079),
    (bands_L_M, 1079, 1268),
    (bands_K_H, 1268, 1457),
]

plt.rcParams['font.family'] = ['Liberation Sans', 'DejaVu Sans']
fig = plt.figure(figsize=(15, 10.5), dpi=100)
ax = fig.add_axes([63/1500, 1-992/1050, (1457-63)/1500, (992-27)/1050])

for k in k_ticks[1:-1]:
    ax.axvline(k, color='#a8a8a8', lw=0.7, ls=(0, (3, 3)), zorder=1)
ax.axhline(fermi_level, color='#56b4e9', lw=1.3, zorder=2)

for bands, k0, k1 in sections:
    window = Rectangle((k0, -5), k1 - k0, 7, transform=ax.transData)
    for band in bands:
        xs = [p[0] for p in band]
        ys = [p[1] for p in band]
        line, = ax.plot(xs, ys, color='black', lw=1.25, zorder=3)
        line.set_clip_path(window)
for a, b in jumps_A_L:
    ax.plot([1079, 1079], [a, b], color='black', lw=1.25, zorder=3)
for a, b in jumps_M_K:
    ax.plot([1268, 1268], [a, b], color='black', lw=1.25, zorder=3)

ax.set_xlim(63, 1457)
ax.set_ylim(-5, 2)
ax.set_xticks(k_ticks)
ax.set_xticklabels(k_labels)
ax.set_yticks(e_ticks)
ax.set_yticklabels([str(v) for v in e_ticks])
ax.tick_params(axis='both', which='major', direction='in', length=7.5, width=1.2,
               top=True, right=True, colors='black')
ax.tick_params(axis='y', labelsize=16, pad=11)
ax.tick_params(axis='x', labelsize=17, pad=12)
for lab in ax.get_xticklabels():
    if lab.get_text() == "\u0393":
        lab.set_family('Liberation Serif')
        lab.set_fontsize(19)
for s in ax.spines.values():
    s.set_linewidth(1.4)
fig.savefig('out.png', dpi=100)
